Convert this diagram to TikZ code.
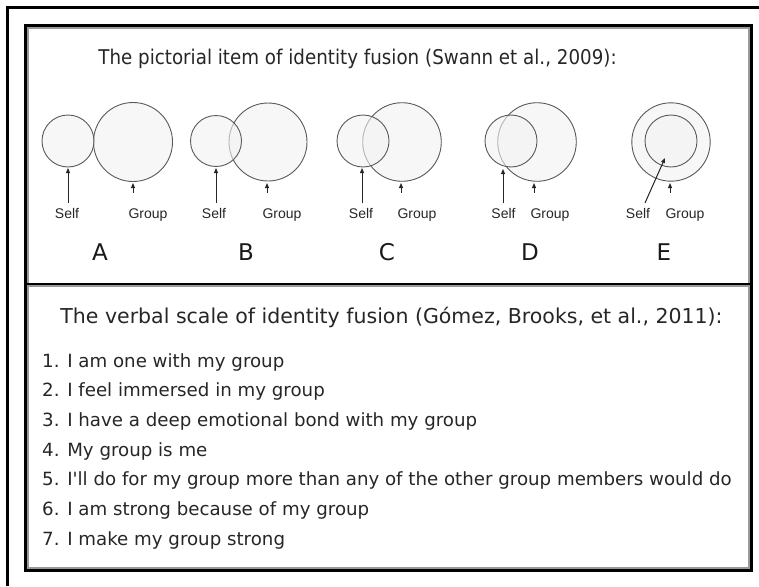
\documentclass[tikz,border=0pt]{standalone}
\usepackage{fontspec}
\setmainfont{DejaVu Sans}
\newfontfamily\labfont{Liberation Sans}
\newfontfamily\condfont[FakeStretch=0.9]{DejaVu Sans}
\usetikzlibrary{arrows.meta}
\begin{document}
\begin{tikzpicture}[x=1pt,y=-1pt,
  circ/.style={circle,draw=black!65,fill=black!5,fill opacity=0.6,line width=0.9pt,inner sep=0pt},
  arr/.style={-{Triangle[length=5pt,width=4pt]},line width=1pt,black!85},
  lbl/.style={font=\labfont\fontsize{14}{16}\selectfont,inner sep=0pt,anchor=base,text=black!85},
  letter/.style={font=\fontsize{23}{26}\selectfont,inner sep=0pt,anchor=base,text=black!90},
  ttl/.style={font=\condfont\fontsize{20.3}{24}\selectfont,inner sep=0pt,anchor=base,text=black!85},
  ttlb/.style={font=\fontsize{20.5}{24}\selectfont,inner sep=0pt,anchor=base,text=black!85},
  item/.style={font=\fontsize{18.2}{22}\selectfont,inner sep=0pt,anchor=base west,text=black!85},
  frame/.style={line width=2.5pt,black},
  shade/.style={line width=1.6pt,black!40}]
\useasboundingbox (0,0) rectangle (759,586);
% outer frame (cropped)
\coordinate (o1) at (7.3,586);
\coordinate (o2) at (7.3,7.5);
\coordinate (o3) at (759,7.5);
\draw[frame] (o1) -- (o2) -- (o3);
% inner boxes
\coordinate (b1) at (25.5,25.5);
\coordinate (b2) at (751.5,570.5);
\coordinate (d1) at (25.5,284);
\coordinate (d2) at (751.5,284);
\draw[shade] (27.8,27.8) rectangle (749.2,568.2);
\draw[shade] (27.8,286.2) -- (749.2,286.2);
\draw[frame] (b1) rectangle (b2);
\draw[frame] (d1) -- (d2);
% title
\node[ttl] (t1) at (357.5,64) {The pictorial item of identity fusion (Swann et al., 2009):};
% circles
\node[circ,minimum size=79pt] (gA) at (133,142) {};
\node[circ,minimum size=52pt] (sA) at (68,141) {};
\node[circ,minimum size=78pt] (gB) at (268,142) {};
\node[circ,minimum size=51pt] (sB) at (216,141) {};
\node[circ,minimum size=78.6pt] (gC) at (402,142) {};
\node[circ,minimum size=52pt] (sC) at (363,141) {};
\node[circ,minimum size=78.6pt] (gD) at (537,142) {};
\node[circ,minimum size=52pt] (sD) at (511,141) {};
\node[circ,minimum size=78.4pt] (gE) at (671,142) {};
\node[circ,minimum size=52pt] (sE) at (671,141) {};
% labels
\node[lbl] (lsA) at (67,218.5) {Self};
\node[lbl] (lgA) at (148,218.5) {Group};
\node[lbl] (lsB) at (214,218.5) {Self};
\node[lbl] (lgB) at (282,218.5) {Group};
\node[lbl] (lsC) at (361,218.5) {Self};
\node[lbl] (lgC) at (417,218.5) {Group};
\node[lbl] (lsD) at (503.5,218.5) {Self};
\node[lbl] (lgD) at (550,218.5) {Group};
\node[lbl] (lsE) at (638,218.5) {Self};
\node[lbl] (lgE) at (685,218.5) {Group};
% arrows
\coordinate (asA0) at (68,203); \coordinate (asA1) at (68,168);
\coordinate (agA0) at (133,193); \coordinate (agA1) at (133,183);
\coordinate (asB0) at (216,203); \coordinate (asB1) at (216,168);
\coordinate (agB0) at (267,193); \coordinate (agB1) at (267,183);
\coordinate (asC0) at (362,203); \coordinate (asC1) at (362,168);
\coordinate (agC0) at (401,193); \coordinate (agC1) at (401,183);
\coordinate (asD0) at (503,203); \coordinate (asD1) at (503,169);
\coordinate (agD0) at (534,193); \coordinate (agD1) at (534,183);
\coordinate (asE0) at (645,203); \coordinate (asE1) at (665,158);
\coordinate (agE0) at (670,193); \coordinate (agE1) at (670,183);
\foreach \k in {A,B,C,D,E}{
  \draw[arr] (as\k0) -- (as\k1);
  \draw[arr] (ag\k0) -- (ag\k1);
}
% letters
\node[letter] (LA) at (100,260) {A};
\node[letter] (LB) at (246,260) {B};
\node[letter] (LC) at (387,260) {C};
\node[letter] (LD) at (530,260) {D};
\node[letter] (LE) at (664,260) {E};
% verbal scale
\node[ttlb] (t2) at (391.5,323) {The verbal scale of identity fusion (Gómez, Brooks, et al., 2011):};
\node[item] (i1) at (42,367) {1. I am one with my group};
\node[item] (i2) at (42,396.7) {2. I feel immersed in my group};
\node[item] (i3) at (42,426.4) {3. I have a deep emotional bond with my group};
\node[item] (i4) at (42,456.1) {4. My group is me};
\node[item] (i5) at (42,485.8) {5. I\textquotesingle ll do for my group more than any of the other group members would do};
\node[item] (i6) at (42,515.5) {6. I am strong because of my group};
\node[item] (i7) at (42,545.2) {7. I make my group strong};
\end{tikzpicture}
\end{document}
